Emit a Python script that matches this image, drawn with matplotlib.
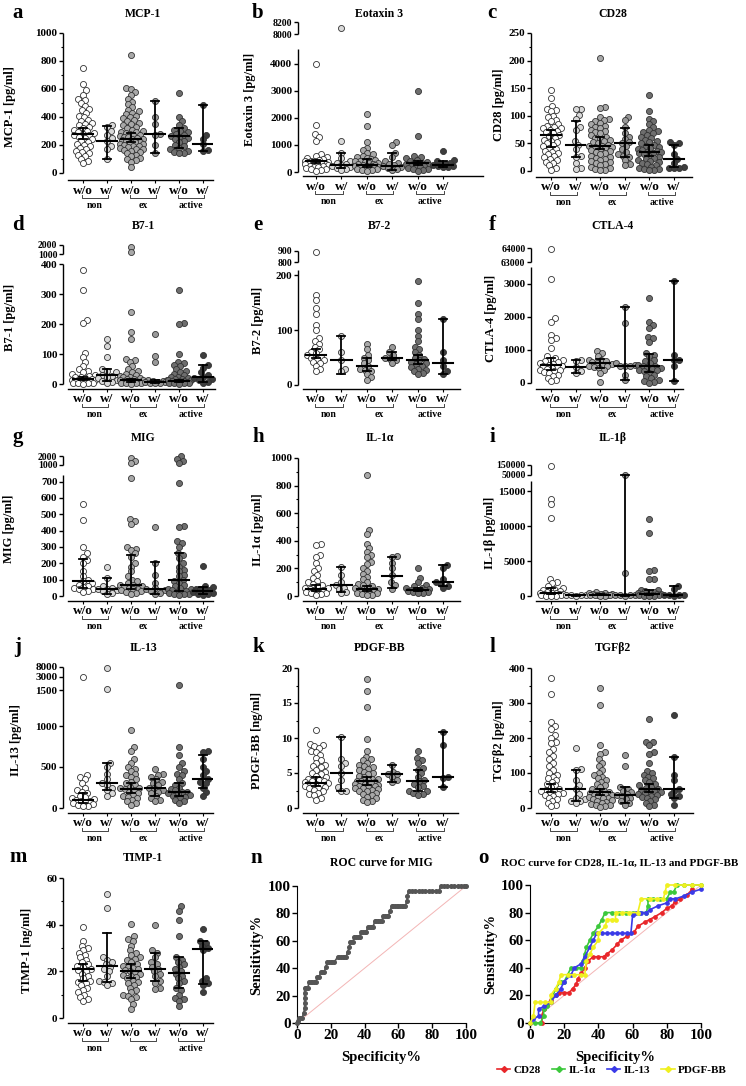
import numpy as np
import matplotlib
matplotlib.use('Agg')
import matplotlib.pyplot as plt
from matplotlib.transforms import blended_transform_factory as blend
from matplotlib.lines import Line2D

W, H = 746, 1086
plt.rcParams['font.family'] = ['Liberation Serif', 'DejaVu Serif']
plt.rcParams['font.weight'] = 'bold'
plt.rcParams['axes.labelweight'] = 'bold'

GROUP_LABELS = ['w/o', 'w/', 'w/o', 'w/', 'w/o', 'w/']
PAIR_LABELS = ['non', 'ex', 'active']
FILLS = ['#ffffff', '#d9d9d9', '#a8a8a8', '#999999', '#6e6e6e', '#3d3d3d']

# ---------------- data ----------------
mcp1 = [
    [750, 635, 590, 560, 530, 520, 500, 480, 460, 450, 430, 410, 400, 380, 370, 360, 350, 340, 330, 320,
     310, 300, 290, 285, 280, 275, 270, 260, 250, 240, 230, 220, 210, 200, 190, 180, 170, 160, 150, 140,
     130, 120, 100, 85, 70],
    [340, 330, 300, 275, 250, 232, 190, 170, 100],
    [840, 610, 600, 580, 560, 530, 510, 490, 470, 450, 440, 430, 420, 410, 400, 390, 380, 370, 360, 350,
     340, 330, 320, 310, 300, 295, 290, 285, 280, 275, 270, 265, 260, 255, 250, 245, 240, 235, 230, 225,
     220, 215, 210, 205, 200, 195, 190, 185, 180, 175, 170, 165, 160, 150, 140, 130, 120, 110, 100, 90, 80, 45],
    [512, 400, 350, 278, 270, 200, 140],
    [570, 400, 370, 340, 325, 310, 300, 290, 280, 270, 262, 255, 250, 240, 230, 220, 200, 190, 180, 170,
     160, 150, 145, 140],
    [483, 270, 245, 210, 165, 160]]
mcp1_med = [280, 232, 240, 278, 262, 210]
mcp1_lo = [240, 100, 220, 140, 180, 160]
mcp1_hi = [325, 335, 285, 512, 325, 483]

eotaxin3 = [
    [4000, 1750, 1400, 1300, 1150, 650, 600, 550, 500, 480, 450, 420, 400, 390, 380, 360, 350, 340, 320, 300,
     280, 260, 240, 220, 200, 180, 150, 120, 100, 80, 50],
    [8100, 1150, 700, 500, 400, 350, 300, 260, 220, 200, 150, 100, 80],
    [2150, 1700, 1100, 900, 800, 700, 650, 600, 550, 500, 480, 450, 420, 400, 380, 350, 320, 300, 280, 260,
     250, 240, 230, 220, 200, 180, 160, 150, 140, 120, 100, 80, 60, 40],
    [1100, 1000, 700, 550, 400, 350, 300, 250, 230, 200, 150, 100, 80],
    [3000, 1330, 580, 550, 500, 450, 400, 380, 350, 330, 300, 280, 260, 240, 220, 200, 180, 150, 120, 100, 80, 50],
    [790, 430, 400, 350, 300, 280, 260, 240, 220, 200, 180]]
eotaxin3_med = [400, 260, 260, 240, 330, 260]
eotaxin3_lo = [330, 150, 200, 80, 250, 200]
eotaxin3_hi = [450, 700, 480, 700, 400, 420]

cd28 = [
    [147, 133, 117, 113, 110, 108, 100, 97, 93, 90, 85, 82, 80, 78, 77, 75, 73, 70, 68, 65, 63, 60, 57, 55,
     52, 50, 47, 45, 42, 40, 37, 35, 32, 30, 27, 25, 22, 20, 17, 15, 10, 5, 2],
    [113, 112, 102, 95, 80, 75, 55, 48, 40, 28, 25, 15, 5, 4],
    [205, 116, 114, 97, 95, 92, 90, 87, 85, 82, 80, 78, 75, 72, 70, 68, 65, 62, 60, 58, 56, 54, 52, 50, 48,
     46, 45, 44, 43, 42, 40, 38, 36, 34, 32, 30, 28, 26, 24, 22, 20, 18, 16, 14, 12, 10, 8, 6, 4, 2, 1],
    [98, 92, 80, 68, 62, 58, 52, 50, 45, 40, 35, 30, 28, 25, 20, 12, 10],
    [137, 108, 95, 90, 85, 80, 75, 72, 70, 68, 65, 62, 60, 57, 55, 52, 50, 48, 46, 44, 42, 40, 38, 36, 35,
     34, 33, 32, 30, 28, 26, 24, 22, 20, 18, 16, 14, 12, 10, 8, 6, 4, 3, 2, 1],
    [53, 50, 48, 30, 22, 15, 8, 6, 5, 5]]
cd28_med = [65, 48, 45, 51, 34, 22]
cd28_lo = [43, 25, 40, 26, 27, 8]
cd28_hi = [75, 90, 62, 78, 48, 48]

b71 = [
    [380, 312, 215, 205, 105, 90, 75, 60, 50, 45, 40, 35, 30, 28, 25, 22, 20, 18, 16, 15, 14, 12, 10, 9, 8,
     7, 6, 5, 4, 3, 2, 1],
    [150, 128, 90, 50, 45, 40, 30, 28, 25, 20, 15, 10, 8, 5],
    [1800, 1200, 240, 175, 150, 85, 80, 75, 60, 50, 45, 40, 35, 30, 28, 25, 22, 20, 18, 16, 14, 12, 11, 10,
     9, 8, 7, 6, 5, 4, 3, 2, 1],
    [168, 95, 75, 15, 12, 10, 9, 8, 7, 6, 5, 4, 3],
    [312, 205, 200, 100, 75, 70, 65, 60, 50, 45, 40, 35, 30, 25, 22, 20, 18, 16, 14, 12, 11, 10, 9, 8, 7,
     6, 5, 4, 3, 2, 1],
    [97, 62, 55, 40, 30, 25, 20, 18, 12, 8, 5]]
b71_med = [18, 30, 12, 8, 10, 22]
b71_lo = [12, 10, 8, 5, 8, 8]
b71_hi = [22, 50, 17, 12, 15, 62]

b72 = [
    [890, 165, 155, 140, 130, 110, 100, 85, 80, 75, 70, 65, 60, 58, 55, 52, 50, 48, 45, 42, 40, 35, 30, 25],
    [90, 60, 45, 30, 25],
    [75, 65, 55, 50, 45, 40, 35, 30, 28, 25, 20, 15, 10],
    [70, 60, 55, 50, 48, 45, 40],
    [190, 150, 130, 120, 100, 90, 80, 70, 65, 60, 55, 50, 48, 45, 42, 40, 38, 35, 32, 30, 28, 25, 22, 20],
    [120, 60, 45, 35, 25, 20]]
b72_med = [55, 45, 35, 50, 45, 40]
b72_lo = [50, 20, 25, 45, 38, 20]
b72_hi = [65, 90, 50, 60, 55, 120]

ctla4 = [
    [63900, 3150, 1950, 1850, 1450, 1350, 1300, 1050, 800, 750, 700, 680, 650, 620, 600, 580, 550, 520, 500,
     480, 450, 420, 400, 380, 350, 320, 300, 250, 200, 150, 100, 50],
    [700, 650, 480, 350, 300],
    [980, 900, 800, 700, 680, 650, 620, 600, 580, 550, 520, 500, 480, 450, 400, 300, 20],
    [2300, 1800, 600, 550, 500, 500, 500, 250, 100],
    [2550, 1850, 1750, 1650, 1400, 1350, 1250, 900, 850, 800, 700, 650, 600, 550, 520, 500, 480, 450, 420,
     400, 380, 350, 300, 250, 200, 150, 100, 50, 20, 10],
    [3080, 850, 700, 700, 500, 50]]
ctla4_med = [550, 480, 600, 500, 500, 700]
ctla4_lo = [400, 300, 450, 100, 330, 50]
ctla4_hi = [750, 700, 720, 2300, 870, 3080]

mig = [
    [560, 465, 300, 260, 240, 220, 200, 150, 120, 100, 90, 80, 70, 60, 55, 50, 45, 40, 30, 25],
    [180, 110, 60, 50, 45, 40, 35, 30, 20, 15],
    [1800, 1500, 1200, 720, 470, 460, 440, 300, 290, 280, 260, 240, 200, 180, 150, 120, 100, 90, 80, 70, 65,
     60, 55, 50, 45, 40, 35, 30, 25, 20, 15],
    [420, 200, 130, 80, 50, 40, 35, 30, 20, 15],
    [2000, 1700, 1500, 1200, 690, 430, 425, 335, 325, 300, 260, 250, 230, 200, 180, 160, 150, 130, 120, 100,
     90, 80, 70, 60, 50, 45, 40, 35, 30, 25, 20, 18, 15, 12, 10, 5],
    [185, 60, 55, 45, 40, 35, 30, 25, 20, 15, 10, 5]]
mig_med = [92, 40, 65, 42, 100, 28]
mig_lo = [50, 15, 40, 15, 30, 15]
mig_hi = [225, 110, 250, 210, 260, 55]

il1a = [
    [380, 370, 300, 280, 240, 200, 180, 150, 130, 110, 100, 90, 80, 70, 60, 55, 50, 45, 40, 35, 30, 25, 20, 15, 10],
    [210, 150, 100, 80, 60, 50, 30, 20],
    [880, 480, 450, 380, 350, 320, 300, 280, 250, 230, 200, 180, 160, 140, 120, 100, 90, 80, 70, 60, 55, 50,
     45, 40, 35, 30, 25, 20, 15, 10, 5],
    [290, 280, 240, 200, 150, 100, 80, 50],
    [200, 130, 100, 80, 70, 60, 55, 50, 45, 42, 40, 38, 35, 32, 30, 25, 20],
    [225, 200, 120, 100, 90, 75, 60]]
il1a_med = [50, 80, 50, 145, 40, 100]
il1a_lo = [35, 30, 35, 55, 35, 75]
il1a_hi = [80, 210, 75, 280, 55, 225]

il1b = [
    [140000, 13900, 13200, 11200, 2400, 2000, 1800, 1500, 1200, 1000, 900, 800, 700, 600, 500, 450, 400, 350,
     300, 250, 200, 150, 100, 80, 60, 40, 20],
    [200, 150, 100, 80, 50],
    [600, 500, 400, 350, 300, 250, 200, 180, 150, 120, 100, 80, 60, 40],
    [50000, 3300, 200, 150, 100, 80, 50],
    [11100, 9000, 3800, 3600, 2500, 2400, 900, 800, 700, 600, 500, 400, 350, 300, 250, 200, 150, 100, 80, 60, 40, 20],
    [1500, 1000, 200, 150, 100, 80, 50]]
il1b_med = [400, 100, 150, 120, 300, 150]
il1b_lo = [300, 50, 80, 50, 150, 50]
il1b_hi = [1200, 200, 300, 50000, 900, 1500]

il13 = [
    [3200, 400, 380, 350, 300, 250, 220, 200, 180, 150, 130, 120, 110, 100, 90, 80, 70, 60, 50, 40, 30, 20],
    [7500, 1600, 550, 500, 420, 350, 300, 280, 250, 220, 180, 150],
    [950, 750, 700, 600, 550, 500, 480, 450, 420, 400, 380, 350, 320, 300, 280, 260, 250, 240, 230, 220, 200,
     180, 160, 150, 140, 120, 100, 80, 60, 40],
    [480, 420, 400, 380, 350, 320, 300, 280, 250, 240, 220, 200, 180, 150, 120, 100, 80],
    [2100, 750, 650, 550, 500, 450, 420, 400, 350, 300, 280, 250, 230, 220, 200, 190, 180, 170, 160, 150, 140,
     120, 100, 80, 60],
    [700, 680, 600, 500, 450, 400, 350, 320, 300, 250, 200, 150]]
il13_med = [100, 300, 230, 240, 190, 350]
il13_lo = [60, 220, 180, 150, 150, 250]
il13_hi = [180, 550, 300, 350, 300, 650]

pdgfbb = [
    [11.1, 9.2, 9, 8.8, 8.6, 8.2, 8, 7.6, 7.2, 6.8, 6.5, 6.2, 6, 5.8, 5.5, 5.2, 5, 4.8, 4.6, 4.4, 4.2, 4,
     3.9, 3.8, 3.7, 3.6, 3.5, 3.4, 3.3, 3.2, 3.1, 3, 2.9, 2.8, 2.6, 2.4, 2.2, 2, 1.8, 1.5, 1.2],
    [10.1, 7, 6.5, 6, 5, 4, 3, 2.5, 2.5],
    [18.4, 16.7, 14.4, 9.9, 8.1, 7.3, 7, 6.8, 6.5, 6.2, 6, 5.8, 5.6, 5.4, 5.2, 5, 4.8, 4.6, 4.4, 4.2, 4.1, 4,
     3.9, 3.8, 3.7, 3.6, 3.5, 3.4, 3.3, 3.2, 3.1, 3, 2.9, 2.8, 2.7, 2.6, 2.5, 2.4, 2.2, 2, 1.8, 1.6, 1.4,
     1.2, 1, 0.8],
    [6.1, 5.2, 4.9, 4.8, 4.5, 4, 3.7],
    [8.2, 7.2, 6.9, 6.5, 5.7, 5.5, 5, 4.5, 4, 3.8, 3.5, 3.2, 3, 2.5, 2.4, 2.2, 2, 1.9],
    [10.8, 9, 4.5, 4.3, 3]]
pdgfbb_med = [3.6, 5, 3.8, 4.8, 3.8, 4.4]
pdgfbb_lo = [3.2, 2.5, 3.3, 3.7, 2.4, 3]
pdgfbb_hi = [4.5, 10.1, 4.5, 6.1, 5.5, 10.8]

tgfb2 = [
    [372, 325, 245, 235, 225, 210, 200, 190, 185, 170, 160, 150, 140, 130, 120, 110, 100, 95, 90, 85, 80, 75,
     70, 65, 60, 55, 52, 50, 48, 45, 42, 40, 38, 35, 30, 25, 20, 15, 10, 5],
    [172, 112, 110, 80, 65, 55, 40, 30, 25, 20, 20, 15],
    [342, 295, 180, 160, 155, 140, 130, 120, 110, 100, 95, 90, 85, 80, 75, 70, 65, 60, 55, 50, 48, 46, 44, 42,
     40, 38, 36, 34, 32, 30, 28, 25, 22, 20, 18, 15, 12, 10, 8, 5, 2],
    [152, 120, 60, 55, 50, 45, 40, 38, 35, 30, 25, 20, 15, 10],
    [255, 190, 188, 180, 160, 155, 130, 105, 100, 95, 90, 85, 80, 75, 70, 65, 60, 58, 55, 52, 50, 48, 45, 42,
     40, 38, 35, 32, 30, 25, 20, 15, 10, 5],
    [265, 145, 95, 80, 55, 50, 40, 35, 30, 8]]
tgfb2_med = [53, 55, 45, 38, 53, 55]
tgfb2_lo = [45, 20, 38, 15, 45, 30]
tgfb2_hi = [68, 110, 55, 60, 68, 145]

timp1 = [
    [39, 33, 31, 30, 29, 28, 27, 26, 25, 24, 23, 22.5, 22, 21, 20.5, 20, 19, 18, 17, 16, 15.5, 15, 14, 13,
     12, 11, 10, 9, 8, 7.5],
    [53, 47, 26, 25, 24, 23, 22, 21, 20, 18, 16, 15.5, 15, 14],
    [40.5, 35, 34, 33, 31, 29, 28, 27, 26, 25.5, 25, 24, 23, 22.5, 22, 21.5, 21, 20.5, 20, 19.5, 19, 18.5,
     18, 17.5, 17, 16, 15.5, 15, 14, 13, 12, 11, 10, 9.5, 9, 8, 6, 4],
    [40, 29, 28, 26, 24, 23, 22, 21, 20, 19, 18, 16, 15, 13, 12.5],
    [48, 46, 42, 35, 26, 25, 24, 23, 22, 21, 20, 19, 18, 17, 16, 15, 13, 12, 10, 8.5, 8, 7.5, 5],
    [38, 33, 32, 31, 30, 29, 17, 16, 15, 14, 11]]
timp1_med = [21, 22.5, 20, 21, 19.5, 29.5]
timp1_lo = [16, 15.5, 17, 16, 13, 14.5]
timp1_hi = [23, 36.5, 23, 28, 26, 33]

# ROC curves
mig_spec = [0, 0.5, 1, 2, 3, 4, 4.5, 4.5, 4.5, 4.5, 4.5, 5.5, 6.5,
            7, 8, 9, 10, 11, 12, 13, 14, 15, 16, 17, 18, 19, 20, 21, 22,
            24, 25, 26, 27, 28, 29, 30, 31, 31.5, 32, 33, 34, 35, 36, 37,
            38, 39, 40, 41, 42, 43, 44, 45, 46, 47, 48, 49, 50,
            51, 52, 53, 54, 55, 56, 57, 58, 59, 60, 61, 62, 63, 64, 65, 65.3,
            66, 68, 70, 72, 74, 76, 78, 80, 82, 84,
            85, 87, 89, 91, 93, 95, 97, 99, 100]
mig_sens = [0, 1.5, 3.7, 3.7, 3.7, 7.4, 11.1, 14.8, 18.5, 22.2, 25.9, 25.9, 25.9,
            29.6, 29.6, 29.6, 29.6, 29.6, 33.3, 33.3, 37, 37, 37, 40.7, 44.4, 44.4, 44.4, 44.4, 44.4,
            48.1, 48.1, 48.1, 48.1, 48.1, 48.1, 51.9, 55.6, 59.3, 59.3, 59.3, 63, 63, 63, 63,
            66.7, 66.7, 66.7, 66.7, 70.4, 70.4, 70.4, 70.4, 74.1, 74.1, 74.1, 74.1, 74.1,
            77.8, 77.8, 77.8, 77.8, 81.5, 85.2, 85.2, 85.2, 85.2, 85.2, 85.2, 85.2, 85.2, 85.2, 88.9, 92.6,
            96.3, 96.3, 96.3, 96.3, 96.3, 96.3, 96.3, 96.3, 96.3, 96.3,
            100, 100, 100, 100, 100, 100, 100, 100, 100]

roc_names = ['CD28', 'IL-1α', 'IL-13', 'PDGF-BB']
roc_colors = ['#e8262a', '#3cc83c', '#3a3ae8', '#f0f020']
cd28_spec = [0, 7, 7, 8, 10, 12, 15, 17, 20, 23, 25, 27, 28, 30, 32, 34, 37, 40, 43, 45, 48, 51, 53, 57,
             61, 63, 67, 70, 73, 77, 80, 83, 85, 88, 92, 95]
cd28_sens = [0, 0, 5, 10, 13, 17, 20, 22, 22, 22, 25, 28, 32, 36, 40, 45, 48, 48, 48, 50, 53, 57, 60, 63,
             66, 70, 73, 75, 77, 80, 83, 85, 88, 90, 93, 97]
il1a_spec = [0, 3, 6, 8, 8, 10, 12, 15, 18, 20, 22, 24, 27, 30, 31, 32, 33, 35, 37, 40, 42, 44, 48, 52,
             56, 60, 64, 68, 69, 69, 72, 76, 80, 82, 84, 86, 90, 95, 100]
il1a_sens = [0, 0, 0, 5, 10, 12, 15, 25, 30, 30, 35, 40, 40, 40, 45, 50, 55, 60, 65, 70, 75, 80, 80, 80,
             80, 80, 80, 80, 85, 90, 90, 90, 90, 95, 95, 100, 100, 100, 100]
il13_spec = [0, 2, 5, 5, 8, 12, 15, 18, 20, 24, 26, 30, 32, 35, 37, 39, 42, 45, 48, 51, 54, 57, 59, 60,
             62, 65, 68, 70, 75, 80, 82, 85, 90, 95, 100]
il13_sens = [0, 3, 5, 10, 12, 15, 20, 25, 30, 35, 40, 43, 48, 55, 60, 65, 65, 65, 65, 65, 65, 65, 65, 78,
             80, 80, 80, 82, 85, 87, 90, 90, 92, 95, 97]
pdgf_spec = [0, 2, 3, 6, 9, 12, 12, 15, 17, 18, 22, 26, 30, 32, 33, 35, 37, 40, 40, 44, 45, 48, 50, 50,
             54, 58, 63, 65, 70, 74, 78, 79, 80, 85, 90, 95, 100]
pdgf_sens = [0, 5, 15, 15, 15, 15, 20, 25, 30, 35, 35, 35, 35, 35, 45, 50, 55, 60, 65, 70, 75, 75, 75, 80,
             80, 80, 80, 90, 90, 90, 90, 95, 100, 100, 100, 100, 100]

# ---------------- layout ----------------
COLS = [dict(spine=63, g0=83, unit=24.0, lx=18),
        dict(spine=298, g0=316, unit=25.4, lx=258),
        dict(spine=531, g0=551, unit=24.6, lx=492)]
ROW_TITLE_Y = [14, 226, 438, 648, 858]

panels = [
    dict(letter='a', title='MCP-1', ylabel='MCP-1 [pg/ml]', d=mcp1, med=mcp1_med, lo=mcp1_lo, hi=mcp1_hi,
         col=0, row=0, right=213, line=180, knots=[(0, 173), (1000, 33)],
         ticks=[0, 200, 400, 600, 800, 1000], minor=[100, 300, 500, 700, 900], spines=[(0, 1000)], ylx=16),
    dict(letter='b', title='Eotaxin 3', ylabel='Eotaxin 3 [pg/ml]', d=eotaxin3, med=eotaxin3_med,
         lo=eotaxin3_lo, hi=eotaxin3_hi, col=1, row=0, right=483, line=176,
         knots=[(0, 172), (4550, 49), (8000, 34), (8200, 22)],
         ticks=[0, 1000, 2000, 3000, 4000, 8000, 8200], minor=[], spines=[(0, 4550), (8000, 8200)], ylx=256),
    dict(letter='c', title='CD28', ylabel='CD28 [pg/ml]', d=cd28, med=cd28_med, lo=cd28_lo, hi=cd28_hi,
         col=2, row=0, right=692, line=177, knots=[(0, 171), (250, 33)],
         ticks=[0, 50, 100, 150, 200, 250], minor=[25, 75, 125, 175, 225], spines=[(0, 250)], ylx=505),
    dict(letter='d', title='B7-1', ylabel='B7-1 [pg/ml]', d=b71, med=b71_med, lo=b71_lo, hi=b71_hi,
         col=0, row=1, right=215, line=389, knots=[(0, 384), (400, 264), (1000, 254), (2000, 245)],
         ticks=[0, 100, 200, 300, 400, 1000, 2000], minor=[], spines=[(0, 400), (1000, 2000)], ylx=16),
    dict(letter='e', title='B7-2', ylabel='B7-2 [pg/ml]', d=b72, med=b72_med, lo=b72_lo, hi=b72_hi,
         col=1, row=1, right=460, line=389, knots=[(0, 385), (210, 270), (800, 262), (900, 251)],
         ticks=[0, 100, 200, 800, 900], minor=[], spines=[(0, 210), (800, 900)], ylx=264),
    dict(letter='f', title='CTLA-4', ylabel='CTLA-4 [pg/ml]', d=ctla4, med=ctla4_med, lo=ctla4_lo,
         hi=ctla4_hi, col=2, row=1, right=683, line=389,
         knots=[(0, 383), (3500, 267), (63000, 262), (64000, 248)],
         ticks=[0, 1000, 2000, 3000, 63000, 64000], minor=[], spines=[(0, 3500), (63000, 64000)], ylx=497),
    dict(letter='g', title='MIG', ylabel='MIG [pg/ml]', d=mig, med=mig_med, lo=mig_lo, hi=mig_hi,
         col=0, row=2, right=213, line=601, knots=[(0, 596), (740, 475), (1000, 465), (2000, 456)],
         ticks=[0, 100, 200, 300, 400, 500, 600, 700, 1000, 2000], minor=[],
         spines=[(0, 740), (1000, 2000)], ylx=15),
    dict(letter='h', title='IL-1α', ylabel='IL-1α [pg/ml]', d=il1a, med=il1a_med, lo=il1a_lo, hi=il1a_hi,
         col=1, row=2, right=460, line=601, knots=[(0, 596), (1000, 458)],
         ticks=[0, 200, 400, 600, 800, 1000], minor=[100, 300, 500, 700, 900], spines=[(0, 1000)], ylx=264),
    dict(letter='i', title='IL-1β', ylabel='IL-1β [pg/ml]', d=il1b, med=il1b_med, lo=il1b_lo, hi=il1b_hi,
         col=2, row=2, right=683, line=601,
         knots=[(0, 596), (16500, 481), (50000, 475), (150000, 465)],
         ticks=[0, 5000, 10000, 15000, 50000, 150000], minor=[], spines=[(0, 16500), (50000, 150000)], ylx=496),
    dict(letter='j', title='IL-13', ylabel='IL-13 [pg/ml]', d=il13, med=il13_med, lo=il13_lo, hi=il13_hi,
         col=0, row=3, right=213, line=813,
         knots=[(0, 808), (500, 767), (1000, 726), (1500, 690), (3000, 677), (8000, 667)],
         ticks=[0, 500, 1000, 1500, 3000, 8000], minor=[], spines=[(0, 8000)], ylx=22),
    dict(letter='k', title='PDGF-BB', ylabel='PDGF-BB [ng/ml]', d=pdgfbb, med=pdgfbb_med, lo=pdgfbb_lo,
         hi=pdgfbb_hi, col=1, row=3, right=458, line=813, knots=[(0, 808), (20, 668)],
         ticks=[0, 5, 10, 15, 20], minor=[2.5, 7.5, 12.5, 17.5], spines=[(0, 20)], ylx=263),
    dict(letter='l', title='TGFβ2', ylabel='TGFβ2 [pg/ml]', d=tgfb2, med=tgfb2_med, lo=tgfb2_lo, hi=tgfb2_hi,
         col=2, row=3, right=693, line=813, knots=[(0, 808), (400, 668)],
         ticks=[0, 100, 200, 300, 400], minor=[50, 150, 250, 350], spines=[(0, 400)], ylx=505),
    dict(letter='m', title='TIMP-1', ylabel='TIMP-1 [ng/ml]', d=timp1, med=timp1_med, lo=timp1_lo,
         hi=timp1_hi, col=0, row=4, right=213, line=1023, knots=[(0, 1018), (60, 878)],
         ticks=[0, 20, 40, 60], minor=[10, 30, 50], spines=[(0, 60)], ylx=33),
]

fig = plt.figure(figsize=(W / 100, H / 100), dpi=100)


def px_rect(x0, y0, x1, y1):
    return [x0 / W, 1 - y1 / H, (x1 - x0) / W, (y1 - y0) / H]


def ftext(x, y, s, **kw):
    fig.text(x / W, 1 - y / H, s, **kw)


def piecewise(vals, pix):
    v = np.asarray(vals, float)
    p = np.asarray(pix, float)

    def lin(x, a, b):
        x = np.asarray(x, float)
        out = np.interp(x, a, b)
        s0 = (b[1] - b[0]) / (a[1] - a[0])
        s1 = (b[-1] - b[-2]) / (a[-1] - a[-2])
        out = np.where(x < a[0], b[0] + (x - a[0]) * s0, out)
        out = np.where(x > a[-1], b[-1] + (x - a[-1]) * s1, out)
        return out
    return (lambda x: lin(x, v, p)), (lambda y: lin(y, p, v))


def swarm(yp, d=4.8, maxoff=12):
    cand = [0.0]
    for k in np.arange(0.5, maxoff, 0.5):
        cand += [k, -k]
    px, py = [], []
    xs = np.zeros(len(yp))
    for i in np.argsort(yp):
        best, bestd = 0.0, -1.0
        for c in cand:
            dist = np.min(np.hypot(np.array(px) - c, np.array(py) - yp[i])) if px else 99.0
            if dist >= d:
                best = c
                break
            if dist > bestd:
                best, bestd = c, dist
        xs[i] = best
        px.append(best)
        py.append(yp[i])
    return xs


for p in panels:
    c = COLS[p['col']]
    top = min(k[1] for k in p['knots'])
    h_px = p['line'] - top
    ax = fig.add_axes(px_rect(c['spine'], top, p['right'], p['line']))
    fwd, inv = piecewise([k[0] for k in p['knots']], [p['line'] - k[1] for k in p['knots']])
    ax.set_yscale('function', functions=(fwd, inv))
    ax.set_ylim(float(inv(0)), float(inv(h_px)))
    ax.set_xlim(-(c['g0'] - c['spine']) / c['unit'], (p['right'] - c['g0']) / c['unit'])
    for s in ax.spines.values():
        s.set_visible(False)
    ax.patch.set_alpha(0)

    for g, vals in enumerate(p['d']):
        vals = np.asarray(vals, float)
        xo = swarm(fwd(vals)) / c['unit']
        ax.scatter(g + xo, vals, s=19, facecolor=FILLS[g], edgecolor='#333333', linewidth=0.6,
                   zorder=3, clip_on=False)
        ax.plot([g - 0.4, g + 0.4], [p['med'][g]] * 2, color='k', lw=1.5, zorder=5)
        ax.plot([g, g], [p['lo'][g], p['hi'][g]], color='k', lw=1.3, zorder=5)
        for v in (p['lo'][g], p['hi'][g]):
            ax.plot([g - 0.16, g + 0.16], [v, v], color='k', lw=1.3, zorder=5)

    # axes lines
    tyd = blend(ax.transAxes, ax.transData)
    for a, b in p['spines']:
        ax.plot([0, 0], [a, b], transform=tyd, color='k', lw=1.0, clip_on=False, solid_capstyle='butt')
    w_px = p['right'] - c['spine']
    ax.plot([5 / w_px, 1], [0, 0], transform=ax.transAxes, color='k', lw=1.0, clip_on=False)

    ax.set_yticks(p['ticks'])
    labels = ax.set_yticklabels([str(t) for t in p['ticks']], fontsize=8, fontweight='bold')
    if len(p['spines']) > 1:
        for t, lab in zip(p['ticks'], labels):
            if t >= p['spines'][1][0]:
                lab.set_fontsize(7)
    if p['minor']:
        ax.set_yticks(p['minor'], minor=True)
    else:
        ax.set_yticks([], minor=True)
    ax.tick_params(axis='y', which='major', length=3, width=1.0, pad=1)
    ax.tick_params(axis='y', which='minor', length=1.8, width=0.8)
    ax.set_xticks(range(6))
    ax.set_xticklabels([])
    ax.tick_params(axis='x', length=2.5, width=0.8)

    txd = blend(ax.transData, ax.transAxes)
    for g, lab in enumerate(GROUP_LABELS):
        ax.text(g, -10.5 / h_px, lab, transform=txd, ha='center', va='center', fontsize=9.5,
                fontweight='bold')
    for k, lab in enumerate(PAIR_LABELS):
        x0, x1 = 2 * k - 0.05, 2 * k + 1.05
        yb = -18.0 / h_px
        ax.plot([x0, x0, x1, x1], [yb + 3 / h_px, yb, yb, yb + 3 / h_px], transform=txd, color='#444444',
                lw=0.7, clip_on=False)
        ax.text(2 * k + 0.5, -25.5 / h_px, lab, transform=txd, ha='center', va='center', fontsize=7,
                fontweight='bold')

    ax.set_ylabel(p['ylabel'], fontsize=9, fontweight='bold')
    ax.yaxis.set_label_coords((p['ylx'] - c['spine']) / w_px, 0.5)

    ty = ROW_TITLE_Y[p['row']]
    ftext(c['g0'] + 2.5 * c['unit'], ty, p['title'], ha='center', va='center', fontsize=8.5, fontweight='bold')
    ftext(c['lx'], ty - 1, p['letter'], ha='center', va='center', fontsize=15, fontweight='bold')


def roc_axes(rect, ylx, xly):
    ax = fig.add_axes(px_rect(*rect))
    ax.set_xlim(0, 100)
    ax.set_ylim(0, 100)
    ax.spines['top'].set_visible(False)
    ax.spines['right'].set_visible(False)
    ax.set_xticks([0, 20, 40, 60, 80, 100])
    ax.set_yticks([0, 20, 40, 60, 80, 100])
    ax.tick_params(length=3.5, width=1.0, labelsize=11, pad=1)
    for t in ax.get_xticklabels() + ax.get_yticklabels():
        t.set_fontweight('bold')
    ax.plot([0, 100], [0, 100], color='#f3b5b5', lw=0.7, zorder=1)
    ax.set_xlabel('Specificity%', fontsize=10.5, fontweight='bold')
    ax.set_ylabel('Sensitivity%', fontsize=10.5, fontweight='bold')
    w = rect[2] - rect[0]
    h = rect[3] - rect[1]
    ax.yaxis.set_label_coords((ylx - rect[0]) / w, 0.5)
    ax.xaxis.set_label_coords(0.5, -(xly - rect[3]) / h)
    return ax


axn = roc_axes((297, 886, 466, 1023), 263, 1051)
axn.plot(mig_spec, mig_sens, color='#555555', lw=1.2, marker='o', ms=2.6, zorder=3, clip_on=False)
ftext(381, 863, 'ROC curve for MIG', ha='center', va='center', fontsize=8.5, fontweight='bold')
ftext(256, 858, 'n', ha='center', va='center', fontsize=15, fontweight='bold')

axo = roc_axes((530, 885, 701, 1023), 497, 1051)
handles = []
for xs, ys, col, name in zip([cd28_spec, il1a_spec, il13_spec, pdgf_spec],
                             [cd28_sens, il1a_sens, il13_sens, pdgf_sens], roc_colors, roc_names):
    axo.plot(xs, ys, color=col, lw=1.2, marker='o', ms=2.4, zorder=3, clip_on=False)
    handles.append(Line2D([], [], color=col, lw=1.2, marker='D', ms=3, label=name))
ftext(620, 863, 'ROC curve for CD28, IL-1α, IL-13 and PDGF-BB', ha='center', va='center', fontsize=8,
      fontweight='bold')
ftext(483, 858, 'o', ha='center', va='center', fontsize=15, fontweight='bold')
fig.legend(handles=handles, loc='center', bbox_to_anchor=(612 / W, 1 - 1070 / H), ncol=4, frameon=False,
           handlelength=1.2, handletextpad=0.3, columnspacing=1.0,
           prop={'weight': 'bold', 'size': 8})

fig.savefig('out.png', dpi=100)
